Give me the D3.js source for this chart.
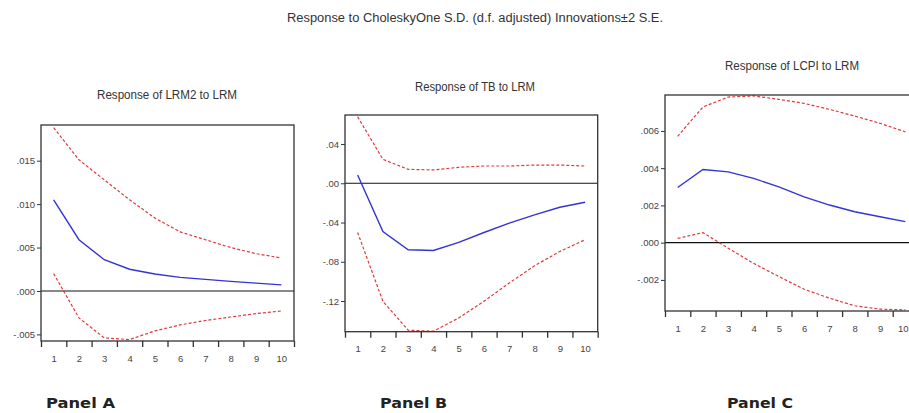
<!DOCTYPE html>
<html>
<head>
<meta charset="utf-8">
<script src="https://cdn.jsdelivr.net/npm/d3@7"></script>
<style>
  html, body { margin: 0; padding: 0; background: #fff; }
  svg { display: block; }
</style>
</head>
<body>
<svg id="chart" width="909" height="413"></svg>
<script>
// ---------------- DATA ----------------
const periods = [1, 2, 3, 4, 5, 6, 7, 8, 9, 10];

const mainTitle = "Response to CholeskyOne S.D. (d.f. adjusted) Innovations\u00b12 S.E.";
const panelTitles = ["Response of LRM2 to LRM", "Response of TB to LRM", "Response of LCPI to LRM"];
const panelLabels = ["Panel A", "Panel B", "Panel C"];

// Panel A: LRM2 to LRM
const lrm2Response = [0.0105, 0.0059, 0.0036, 0.0025, 0.00195, 0.00157, 0.00134, 0.00111, 0.00090, 0.00070];
const lrm2Upper    = [0.0188, 0.0151, 0.0128, 0.0105, 0.0084, 0.0068, 0.0059, 0.0050, 0.0043, 0.0038];
const lrm2Lower    = [0.0020, -0.0031, -0.0054, -0.0056, -0.0046, -0.0039, -0.0034, -0.0030, -0.0026, -0.0023];
const lrm2TickValues = [-0.005, 0.000, 0.005, 0.010, 0.015];
const lrm2TickLabels = ["-.005", ".000", ".005", ".010", ".015"];

// Panel B: TB to LRM
const tbResponse = [0.0085, -0.0492, -0.0678, -0.0685, -0.0603, -0.0502, -0.0407, -0.0322, -0.0244, -0.0193];
const tbUpper    = [0.0678, 0.0244, 0.0142, 0.0136, 0.0163, 0.0176, 0.0176, 0.0186, 0.0186, 0.0176];
const tbLower    = [-0.0502, -0.1203, -0.1498, -0.1508, -0.1373, -0.1203, -0.1017, -0.0841, -0.0695, -0.0576];
const tbTickValues = [-0.12, -0.08, -0.04, 0.00, 0.04];
const tbTickLabels = ["-.12", "-.08", "-.04", ".00", ".04"];

// Panel C: LCPI to LRM
const lcpiResponse = [0.00296, 0.00393, 0.00380, 0.00345, 0.00300, 0.00246, 0.00202, 0.00166, 0.00139, 0.00113];
const lcpiUpper    = [0.00571, 0.00729, 0.00782, 0.00788, 0.00770, 0.00748, 0.00716, 0.00680, 0.00641, 0.00595];
const lcpiLower    = [0.00023, 0.00054, -0.00030, -0.00111, -0.00182, -0.00250, -0.00298, -0.00339, -0.00357, -0.00361];
const lcpiTickValues = [-0.002, 0.000, 0.002, 0.004, 0.006];
const lcpiTickLabels = ["-.002", ".000", ".002", ".004", ".006"];

// ---------------- LAYOUT ----------------
const W = 909;
const panels = [
  { title: panelTitles[0], label: panelLabels[0],
    resp: lrm2Response, up: lrm2Upper, lo: lrm2Lower,
    ticks: lrm2TickValues, tickLabels: lrm2TickLabels,
    domain: [-0.00576, 0.01911],
    x0: 41, x1: 294, y0: 125, y1: 341,
    titleX: 167, titleY: 99, titleW: 140,
    labelX: 46, labelW: 69 },
  { title: panelTitles[1], label: panelLabels[1],
    resp: tbResponse, up: tbUpper, lo: tbLower,
    ticks: tbTickValues, tickLabels: tbTickLabels,
    domain: [-0.1513, 0.0696],
    x0: 345, x1: 597.7, y0: 115, y1: 331.7,
    titleX: 475, titleY: 91, titleW: 120,
    labelX: 380, labelW: 67 },
  { title: panelTitles[2], label: panelLabels[2],
    resp: lcpiResponse, up: lcpiUpper, lo: lcpiLower,
    ticks: lcpiTickValues, tickLabels: lcpiTickLabels,
    domain: [-0.00367, 0.00793],
    x0: 665, x1: 918, y0: 95, y1: 311,
    titleX: 792, titleY: 70, titleW: 134,
    labelX: 727, labelW: 66 }
];

const svg = d3.select("#chart");
const FONT = "'Liberation Sans', Arial, sans-serif";

svg.append("text")
  .attr("x", 475).attr("y", 22)
  .attr("text-anchor", "middle")
  .attr("font-family", FONT).attr("font-size", 12)
  .attr("fill", "#333")
  .attr("textLength", 376).attr("lengthAdjust", "spacingAndGlyphs")
  .text(mainTitle);

panels.forEach(p => {
  const g = svg.append("g");
  const x = d3.scaleLinear().domain([0.5, 10.5]).range([p.x0, p.x1]);
  const y = d3.scaleLinear().domain(p.domain).range([p.y1, p.y0]);

  // title
  g.append("text")
    .attr("x", p.titleX).attr("y", p.titleY)
    .attr("text-anchor", "middle")
    .attr("font-family", FONT).attr("font-size", 12)
    .attr("fill", "#333")
    .attr("textLength", p.titleW).attr("lengthAdjust", "spacingAndGlyphs")
    .text(p.title);

  // y axis
  const yAxis = d3.axisLeft(y)
    .tickValues(p.ticks)
    .tickFormat((d, i) => p.tickLabels[i])
    .tickSize(4).tickSizeOuter(0);
  const ya = g.append("g").attr("transform", `translate(${p.x0},0)`).call(yAxis);
  ya.select(".domain").remove();
  ya.selectAll(".tick line").attr("stroke", "#333");
  ya.selectAll(".tick text")
    .attr("font-family", FONT).attr("font-size", 9.5).attr("fill", "#444")
    .attr("x", -6);

  // x axis: boundary ticks (no labels) + labels at centres
  const boundaries = d3.range(0.5, 11, 1);
  const xTickAxis = d3.axisBottom(x).tickValues(boundaries).tickFormat("").tickSize(6).tickSizeOuter(0);
  const xa = g.append("g").attr("transform", `translate(0,${p.y1})`).call(xTickAxis);
  xa.select(".domain").remove();
  xa.selectAll(".tick line").attr("stroke", "#333").attr("stroke-width", 1.3);

  const xLabAxis = d3.axisBottom(x).tickValues(periods).tickFormat(d3.format("d")).tickSize(0).tickPadding(14);
  const xl = g.append("g").attr("transform", `translate(0,${p.y1})`).call(xLabAxis);
  xl.select(".domain").remove();
  xl.selectAll(".tick text").attr("font-family", FONT).attr("font-size", 9.5).attr("fill", "#444");
  // keep a label that would spill past the right edge inside the picture
  xl.selectAll(".tick").each(function(d) {
    if (x(d) + 6 > W) {
      d3.select(this).select("text").attr("text-anchor", "end").attr("x", W - 1 - x(d));
    }
  });

  // zero line
  g.append("line")
    .attr("x1", p.x0).attr("x2", p.x1)
    .attr("y1", y(0)).attr("y2", y(0))
    .attr("stroke", "#111").attr("stroke-width", 1.1);

  const line = d3.line().x((d, i) => x(periods[i])).y(d => y(d));

  g.append("path").datum(p.up)
    .attr("d", line).attr("fill", "none")
    .attr("stroke", "#e0393b").attr("stroke-width", 1.2)
    .attr("stroke-dasharray", "3,2");
  g.append("path").datum(p.lo)
    .attr("d", line).attr("fill", "none")
    .attr("stroke", "#e0393b").attr("stroke-width", 1.2)
    .attr("stroke-dasharray", "3,2");
  g.append("path").datum(p.resp)
    .attr("d", line).attr("fill", "none")
    .attr("stroke", "#3434d4").attr("stroke-width", 1.4);

  // frame
  g.append("rect")
    .attr("x", p.x0).attr("y", p.y0)
    .attr("width", p.x1 - p.x0).attr("height", p.y1 - p.y0)
    .attr("fill", "none").attr("stroke", "#333").attr("stroke-width", 1.3);

  // panel label
  svg.append("text")
    .attr("x", p.labelX).attr("y", 408)
    .attr("font-family", "'DejaVu Sans', Verdana, sans-serif")
    .attr("font-weight", "bold").attr("font-size", 13.5)
    .attr("fill", "#222")
    .attr("textLength", p.labelW).attr("lengthAdjust", "spacingAndGlyphs")
    .text(p.label);
});
</script>
</body>
</html>
